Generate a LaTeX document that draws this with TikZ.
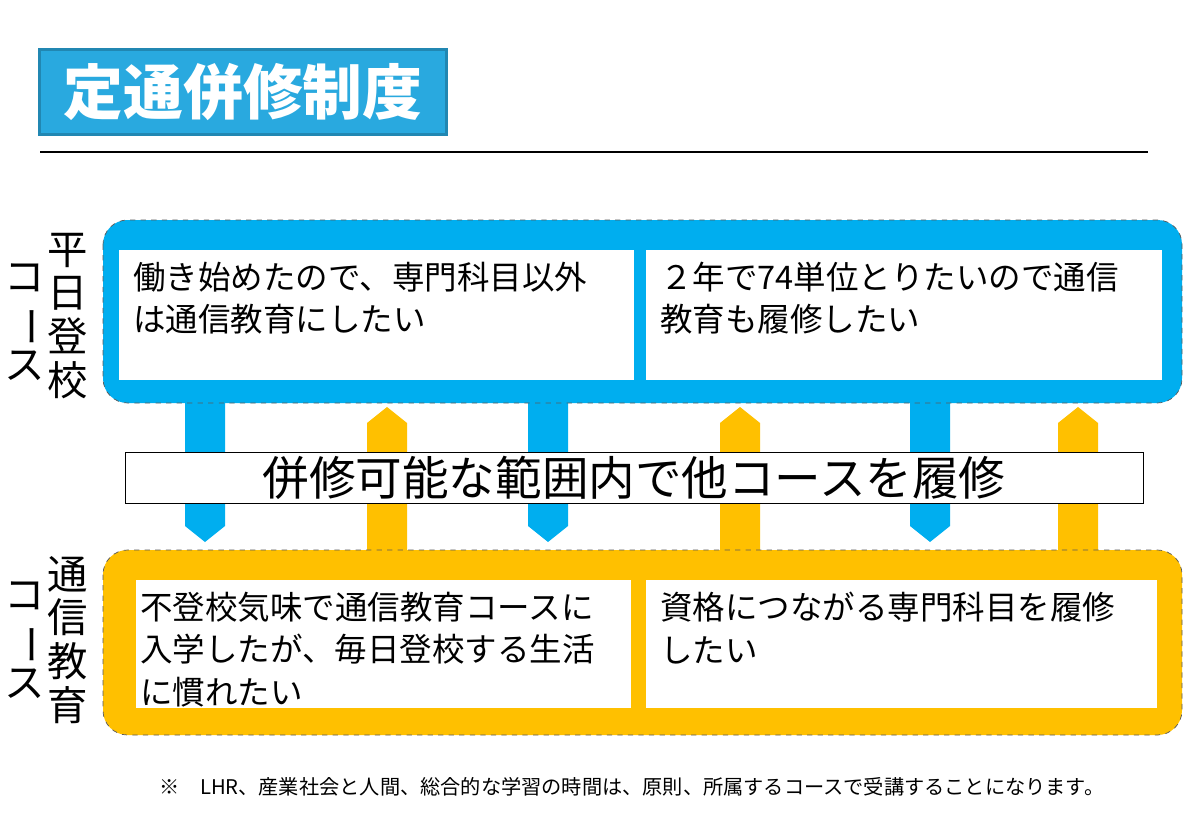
\documentclass[tikz,border=0pt]{standalone}
\usepackage{fontspec}
\setmainfont{Noto Sans CJK JP}
\usetikzlibrary{positioning}
\definecolor{hblue}{HTML}{00AEEF}
\definecolor{torange}{HTML}{FFC000}
\definecolor{tblue}{HTML}{29A9DF}
\tikzset{
  course/.style={rounded corners=14pt,draw=gray!70!black,dashed,thin},
  inner/.style={fill=white,draw=none},
  boxtext/.style={anchor=north west,align=left,font=\fontsize{18.5}{24}\selectfont,inner sep=0pt},
  vlabel/.style={align=center,font=\fontsize{23}{25}\selectfont,inner sep=0pt}
}
% arrow shaft x, from y1 to y2 (tip at y2)
\newcommand{\courseArrow}[4]{%
  \fill[#1] ({#2-20},#3) -- ({#2+20},#3) -- ({#2+20},{#4-16*sign(#4-#3)})
    -- ({#2},#4) -- ({#2-20},{#4-16*sign(#4-#3)}) -- cycle;}
\newcommand{\vbar}{\rotatebox[origin=c]{-90}{ー}}
\begin{document}
\begin{tikzpicture}[x=0.02cm,y=-0.02cm]
\useasboundingbox (0,0) rectangle (1199,831);

% title
\node (title) [fill=tblue,draw=tblue!80!black,line width=1.5pt,minimum width=407*0.02cm,minimum height=85*0.02cm,
  text=white,font=\fontsize{34}{36}\selectfont\bfseries,inner sep=0pt] at (243,92)
  {定通併修制度};
\draw[line width=0.8pt] (40,152) -- (1148,152);

% arrows
\foreach \x in {205,548,930} {\courseArrow{hblue}{\x}{400}{542}}
\foreach \x in {387,740,1078} {\courseArrow{torange}{\x}{553}{407}}

% course frames
\draw[course,fill=hblue] (103,220) rectangle (1182,403);
\draw[course,fill=torange] (103,550) rectangle (1182,735);
\fill[inner] (119,250) rectangle (634,380);
\fill[inner] (646,250) rectangle (1162,380);
\fill[inner] (136,580) rectangle (631,708);
\fill[inner] (646,580) rectangle (1157,708);

\node (hA) [boxtext] at (133,262) {働き始めたので、専門科目以外\\は通信教育にしたい};
\node (hB) [boxtext] at (660,262) {２年で74単位とりたいので通信\\教育も履修したい};
\node (tA) [boxtext] at (140,592) {不登校気味で通信教育コースに\\入学したが、毎日登校する生活\\に慣れたい};
\node (tB) [boxtext] at (660,592) {資格につながる専門科目を履修\\したい};

% vertical labels
\node (hday) [vlabel] at (68,316) {平\\日\\登\\校};
\node (hcourse) [vlabel] at (25,322) {コ\\\vbar\\ス};
\node (tsu) [vlabel] at (68,640) {通\\信\\教\\育};
\node (tcourse) [vlabel] at (25,640) {コ\\\vbar\\ス};

% middle
\node (mid) [draw=black,fill=white,thin,minimum width=1018*0.02cm,minimum height=51*0.02cm,inner sep=0pt,
  font=\fontsize{26.5}{28}\selectfont] at (634,478) {併修可能な範囲内で他コースを履修};

\node (note) [font=\fontsize{11.5}{13}\selectfont] at (632,787)
  {※　LHR、産業社会と人間、総合的な学習の時間は、原則、所属するコースで受講することになります。};
\end{tikzpicture}
\end{document}
